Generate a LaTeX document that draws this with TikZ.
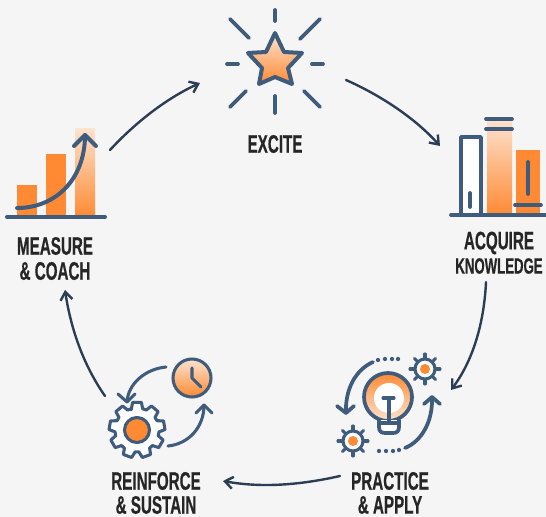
\documentclass[tikz,border=0pt]{standalone}
\usepackage{fontspec}
\newfontfamily\lblfont[FakeStretch=0.60,FakeBold=0.5]{Liberation Sans Bold}
\usetikzlibrary{arrows.meta}
\definecolor{bgc}{HTML}{F5F5F5}
\definecolor{steel}{HTML}{3F5C7C}
\definecolor{navy}{HTML}{2C3E55}
\definecolor{orng}{HTML}{FF8A33}
\definecolor{pale}{HTML}{FDE3D0}
\definecolor{ink}{HTML}{262626}
\tikzset{
  icon/.style={draw=steel,line width=2.8pt,line cap=round,line join=round},
  thin icon/.style={draw=steel,line width=2.3pt,line cap=round,line join=round},
  flow/.style={draw=navy,line width=1.8pt,line cap=round,-{Straight Barb[length=6pt,width=9pt,line width=1.8pt]}},
  bar/.style={fill=orng,draw=none},
  grad/.style={top color=pale,bottom color=orng,draw=none},
  lbl/.style={font=\lblfont\fontsize{19}{21}\selectfont,text=ink,inner sep=0pt,anchor=center},
  lblsmall/.style={font=\lblfont\fontsize{16.5}{18}\selectfont,text=ink,inner sep=0pt,anchor=center},
  dotm/.style={fill=steel,draw=none,circle,minimum size=3.2pt,inner sep=0pt},
}
\begin{document}
\begin{tikzpicture}[x=0.75pt,y=-0.75pt]
\fill[bgc] (0,0) rectangle (546,517);
\useasboundingbox (0,0) rectangle (546,517);

% labels
\node[lbl] (excite) at (275,144) {EXCITE};
\node[lbl] (measure) at (55,246) {MEASURE};
\node[lbl] (coach) at (55,271) {\& COACH};
\node[lbl] (acquire) at (499,243) {ACQUIRE};
\node[lblsmall] (knowledge) at (499,266) {KNOWLEDGE};
\node[lbl] (practice) at (390,481) {PRACTICE};
\node[lbl] (apply) at (390,505) {\& APPLY};
\node[lbl] (reinforce) at (156,481) {REINFORCE};
\node[lbl] (sustain) at (156,505) {\& SUSTAIN};

% main cycle
\coordinate (a1) at (110,150); \coordinate (a2) at (200,83);
\coordinate (b1) at (346,80);  \coordinate (b2) at (440,146);
\coordinate (c1) at (486,282); \coordinate (c2) at (451,390);
\coordinate (d1) at (340,476); \coordinate (d2) at (223,481);
\coordinate (e1) at (105,396); \coordinate (e2) at (65,290);
\draw[flow] (a1) .. controls (134,124) and (165,99) .. (a2);
\draw[flow] (b1) .. controls (380,95) and (415,118) .. (b2);
\draw[flow] (c1) .. controls (484,325) and (472,362) .. (c2);
\draw[flow] (d1) .. controls (300,485) and (262,488) .. (d2);
\draw[flow] (e1) .. controls (84,366) and (71,330) .. (e2);

% star
\draw[icon,line width=3pt,top color=pale,bottom color=orng]
 (275,33) -- (284,52) -- (302,53) -- (288,68) -- (292,84) -- (275,77) -- (259,84) -- (262,68) -- (248,53) -- (266,52) -- cycle;
\draw[icon] (275,10) -- (275,21);
\draw[icon] (275,96) -- (275,113);
\draw[icon] (227,64) -- (238,64);
\draw[icon] (312,64) -- (323,64);
\draw[icon] (230,19) -- (249,38);
\draw[icon] (320,19) -- (300,39);
\draw[icon] (246,91) -- (230,107);
\draw[icon] (304,91) -- (320,107);

% chart
\fill[bar] (17,185) rectangle (37,217);
\fill[bar] (46,154) rectangle (66,217);
\fill[grad] (75,128) rectangle (95,217);
\draw[icon,line width=3pt] (7,217) -- (105,217);
\draw[icon,line width=3pt] (17,208) .. controls (55,208) and (85,180) .. (85,135);
\draw[icon,line width=3pt] (74,146) -- (85,135) -- (96,146);

% books
\draw[icon,fill=white] (461,215) -- (461,137) -- (481,137) -- (481,215);
\draw[icon] (470,193) -- (470,207);
\fill[grad] (487,119) rectangle (512,215);
\fill[bar] (516,150) rectangle (540,215);
\draw[icon] (486,119) -- (512,119);
\draw[icon] (486,129) -- (512,129);
\draw[icon] (528,162) -- (528,194);
\draw[icon] (515,205) -- (541,205);
\draw[icon] (451,215) -- (546,215);

% bulb
\draw[icon,top color=orng,bottom color=pale] (388,397) circle[radius=24];
\fill[white] (389,398) circle[radius=15];
\fill[orng] (384,432) -- (394,432) arc[start angle=0,end angle=-180,radius=5] -- cycle;
\draw[icon,fill=white] (379,420) -- (379,427) .. controls (379,431) and (381,433) .. (385,433) -- (393,433) .. controls (397,433) and (399,431) .. (399,427) -- (399,420);
\draw[thin icon] (383,398) -- (394,398);
\draw[thin icon] (389,398) -- (389,421);
\draw[thin icon] (380,423) -- (398,423);

% small gears
\foreach \nm/\cx/\cy in {g1/425/369,g2/353/441}{
  \begin{scope}[shift={(\cx,\cy)}]
    \foreach \a in {0,45,...,315}{\draw[thin icon] (\a:9) -- (\a:15);}
    \draw[thin icon,fill=white] (0,0) circle[radius=10];
    \fill[orng] (0,0) circle[radius=5];
  \end{scope}
}

% bulb arrows
\draw[icon] (373,362) .. controls (355,370) and (345,390) .. (346,413);
\draw[icon] (337,406) -- (346,413) -- (354,406);
\draw[icon] (405,448) .. controls (422,441) and (433,421) .. (432,397);
\draw[icon] (424,404) -- (432,397) -- (440,404);
\foreach \px/\py in {378/360,385/359,392/359,398/359,379/451,386/451,393/451,399/450}
  \node[dotm] at (\px,\py) {};

% clock
\draw[thin icon,top color=pale,bottom color=orng] (192,378) circle[radius=19];
\draw[thin icon] (192,368) -- (192,378) -- (201,387);
\draw[thin icon] (166,367) .. controls (145,369) and (128,384) .. (127,402);
\draw[thin icon] (118,394) -- (127,402) -- (135,394);
\draw[thin icon] (168,446) .. controls (188,444) and (204,428) .. (204,405);
\draw[thin icon] (196,413) -- (204,405) -- (212,413);

% big gear
\begin{scope}[shift={(137,430)}]
  \draw[thin icon,fill=white] (-106:21)
   \foreach \a in {-90,-50,...,230}{
     -- ({\a-9}:28) -- ({\a+9}:28) -- ({\a+15}:22) -- ({\a+25}:22)
   } -- cycle;
  \draw[thin icon,fill=orng] (0,0) circle[radius=12.5];
\end{scope}
\end{tikzpicture}
\end{document}
